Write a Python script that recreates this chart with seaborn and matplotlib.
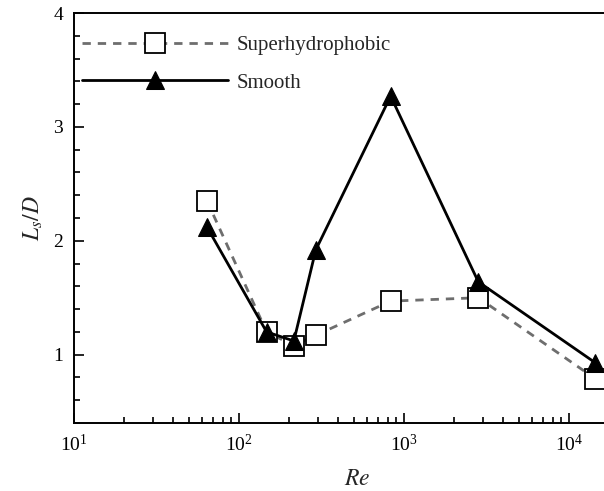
import numpy as np
import pandas as pd
import matplotlib
matplotlib.use("Agg")
import matplotlib.pyplot as plt
import seaborn as sns
from matplotlib.ticker import LogLocator, MultipleLocator, LogFormatterSciNotation, NullFormatter

# Data
re_super = [64, 147, 215, 292, 830, 2820, 14400]
ls_super = [2.35, 1.20, 1.08, 1.17, 1.47, 1.50, 0.79]
re_smooth = [64, 147, 215, 292, 830, 2820, 14400]
ls_smooth = [2.12, 1.20, 1.12, 1.92, 3.27, 1.64, 0.93]
labels = ["Superhydrophobic", "Smooth"]

sns.set_style("ticks")
plt.rcParams["font.family"] = ["Liberation Serif", "DejaVu Serif"]
plt.rcParams["mathtext.fontset"] = "stix"

fig = plt.figure(figsize=(6.04, 4.91), dpi=100)
W, H = 604, 491
left_px, right_px, top_px, bot_px = 74, 640, 13, 423
ax = fig.add_axes([left_px / W, 1 - bot_px / H, (right_px - left_px) / W, (bot_px - top_px) / H])

df_s = pd.DataFrame({"Re": re_super, "L": ls_super})
df_m = pd.DataFrame({"Re": re_smooth, "L": ls_smooth})

sns.lineplot(data=df_s, x="Re", y="L", ax=ax, color="#6e6e6e", lw=2.0,
             linestyle=(0, (3, 2.5)), marker="s", markersize=14,
             markerfacecolor="white", markeredgecolor="black", markeredgewidth=1.3,
             label=labels[0], zorder=2)
sns.lineplot(data=df_m, x="Re", y="L", ax=ax, color="black", lw=2.0,
             marker="^", markersize=13, markerfacecolor="black",
             markeredgecolor="black", label=labels[1], zorder=3)

ax.set_xscale("log")
xmax = 10 ** (1 + (right_px - left_px) / 165.0)
ax.set_xlim(10, xmax)
ax.set_ylim(0.4, 4)

ax.xaxis.set_major_locator(LogLocator(base=10, numticks=10))
ax.xaxis.set_minor_locator(LogLocator(base=10, subs=np.arange(2, 10), numticks=100))
ax.xaxis.set_major_formatter(LogFormatterSciNotation())
ax.xaxis.set_minor_formatter(NullFormatter())
ax.yaxis.set_major_locator(MultipleLocator(1))
ax.yaxis.set_minor_locator(MultipleLocator(0.2))

ax.tick_params(axis="both", which="both", direction="in", top=False, right=False,
               width=1.2, labelsize=14, colors="black")
ax.tick_params(axis="both", which="major", length=7, pad=8)
ax.tick_params(axis="both", which="minor", length=4)

for s in ax.spines.values():
    s.set_linewidth(1.4)
    s.set_color("black")

ax.set_xlabel(r"$Re$", fontsize=17, labelpad=10)
ax.set_ylabel(r"$L_s/D$", fontsize=17, labelpad=6)

leg = ax.legend(loc="upper left", frameon=False, fontsize=15, handlelength=7.0,
                handletextpad=0.43, labelspacing=0.85, bbox_to_anchor=(-0.012, 0.98),
                borderaxespad=0.3)

fig.savefig("out.png", dpi=100)
